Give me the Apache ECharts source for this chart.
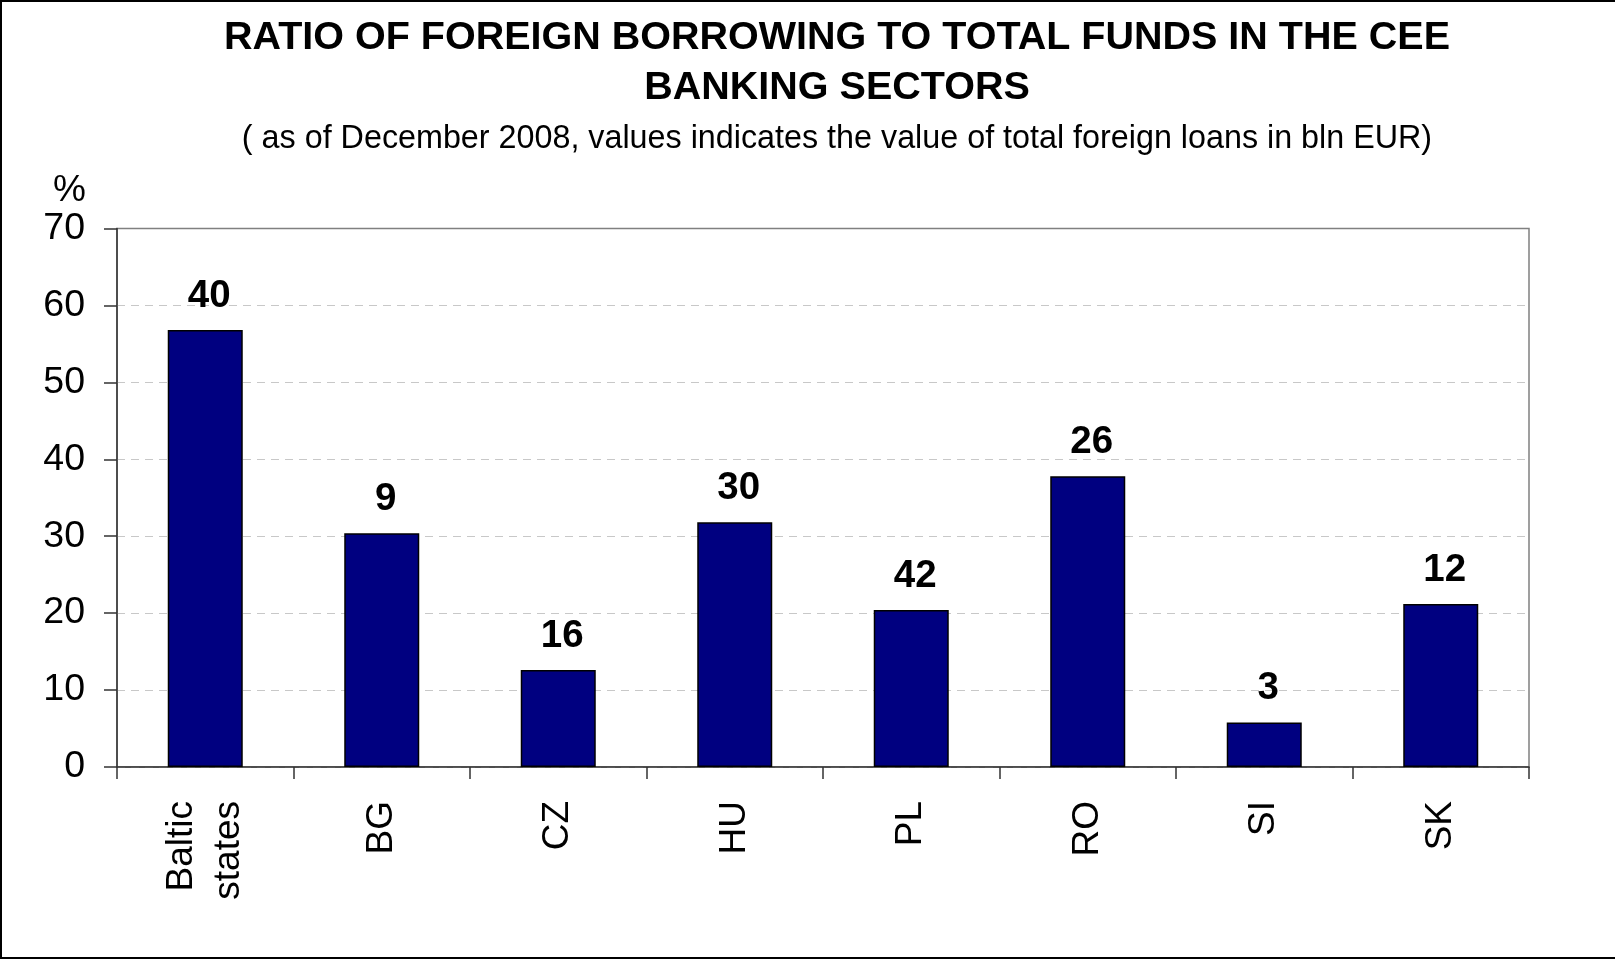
<!DOCTYPE html>
<html>
<head>
<meta charset="utf-8">
<title>Ratio of foreign borrowing to total funds in the CEE banking sectors</title>
<script src="https://cdn.jsdelivr.net/npm/echarts@6/dist/echarts.min.js"></script>
<style>
  html, body { margin: 0; padding: 0; background: #fff; }
  #chart { width: 1615px; height: 959px; }
</style>
</head>
<body>
<div id="chart"></div>
<script>
// Banking sectors shown on the category axis
const categories = ['Baltic\nstates', 'BG', 'CZ', 'HU', 'PL', 'RO', 'SI', 'SK'];
// Foreign borrowing as % of total funds (bar heights)
const foreignRatio = [56.8, 30.4, 12.6, 31.8, 20.4, 37.8, 5.8, 21.2];
// Total foreign loans, bln EUR (printed above each bar)
const foreignLoans = [40, 9, 16, 30, 42, 26, 3, 12];
// Value axis ticks
const yMin = 0, yMax = 70, yStep = 10;

const FONT = "'Liberation Sans', Arial, Helvetica, sans-serif";
const chart = echarts.init(document.getElementById('chart'), null, { renderer: 'canvas' });

chart.setOption({
  backgroundColor: '#ffffff',
  animation: false,
  title: {
    text: 'RATIO OF FOREIGN BORROWING TO TOTAL FUNDS IN THE CEE\nBANKING SECTORS',
    subtext: '( as of December 2008, values indicates the value of total foreign loans in bln EUR)',
    left: 837,
    top: 13,
    textAlign: 'center',
    padding: 0,
    itemGap: 6,
    textStyle: { fontFamily: FONT, fontSize: 39.5, fontWeight: 'bold', color: '#000', lineHeight: 50 },
    subtextStyle: { fontFamily: FONT, fontSize: 32.3, color: '#000', lineHeight: 40 }
  },
  grid: {
    left: 117, right: 86, top: 228.5, bottom: 192,
    show: true, borderColor: '#808080', borderWidth: 1.5, backgroundColor: 'transparent'
  },
  xAxis: {
    type: 'category',
    data: categories,
    boundaryGap: true,
    axisLine: { show: true, lineStyle: { color: '#333', width: 1.5 } },
    axisTick: { show: true, inside: false, length: 12, alignWithLabel: false, lineStyle: { color: '#333', width: 1.5 } },
    axisLabel: {
      rotate: 90, margin: 34, interval: 0,
      fontFamily: FONT, fontSize: 37, color: '#000', lineHeight: 47
    },
    splitLine: { show: false }
  },
  yAxis: {
    type: 'value',
    min: yMin, max: yMax, interval: yStep,
    name: '%',
    nameLocation: 'end',
    nameGap: 7,
    nameTextStyle: { fontFamily: FONT, fontSize: 37, color: '#000', align: 'right', padding: [0, 31, 0, 0] },
    axisLine: { show: true, lineStyle: { color: '#333', width: 1.5 } },
    axisTick: { show: true, inside: false, length: 13, lineStyle: { color: '#333', width: 1.5 } },
    axisLabel: { margin: 32, fontFamily: FONT, fontSize: 37.5, color: '#000' },
    splitLine: { show: true, showMaxLine: false, lineStyle: { color: '#c8c8c8', width: 1.2, type: [8, 6] } }
  },
  graphic: [{
    type: 'polyline',
    silent: true,
    shape: { points: [[1615, 1], [1, 1], [1, 958], [1615, 958]] },
    style: { stroke: '#000', lineWidth: 2, fill: null }
  }],
  series: [{
    type: 'bar',
    data: foreignRatio,
    barWidth: '42.5%',
    itemStyle: { color: '#000080', borderColor: '#000', borderWidth: 1.5 },
    label: {
      show: true,
      position: 'top',
      distance: 14,
      offset: [4, 0],
      fontFamily: FONT, fontSize: 38.5, fontWeight: 'bold', color: '#000',
      formatter: p => String(foreignLoans[p.dataIndex])
    }
  }]
});
</script>
</body>
</html>
